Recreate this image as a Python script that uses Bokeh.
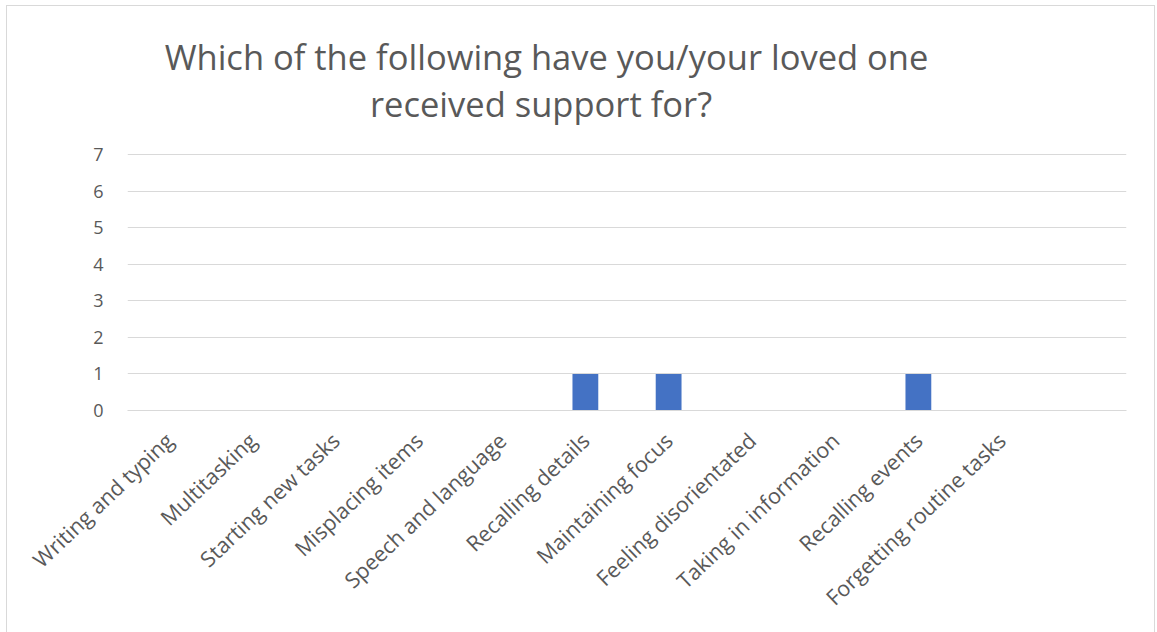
from bokeh.plotting import figure
from bokeh.models import FixedTicker, ColumnDataSource, Range1d, LinearScale
from bokeh.core.properties import value
from bokeh.embed import file_html
from bokeh.resources import INLINE

categories = ["Writing and typing", "Multitasking", "Starting new tasks", "Misplacing items",
              "Speech and language", "Recalling details", "Maintaining focus",
              "Feeling disorientated", "Taking in information", "Recalling events",
              "Forgetting routine tasks", ""]
counts = [0, 0, 0, 0, 0, 1, 1, 0, 0, 1, 0, 0]
y_ticks = [0, 1, 2, 3, 4, 5, 6, 7]
title_lines = ["Which of the following have you/your loved one", "received  support for?"]

FONT = "Open Sans"
GREY = "#595959"
BORDER = "#D9D9D9"

# layout (page pixels)
W, H = 1157, 632
FL, FR, FT, FB = 127, 1126, 20, 410      # frame left/right/top/bottom
Y_MAX = 7
y_end = Y_MAX * (FB - FT) / 256.0          # value axis: 7 units over 256 px

xpos = [i + 0.5 for i in range(len(categories))]
src = ColumnDataSource(dict(x=xpos, val=counts))

p = figure(x_range=Range1d(0, len(categories)), y_range=(0, y_end), width=W, height=H,
           output_backend="svg", toolbar_location=None,
           min_border_left=FL, min_border_right=W - FR, min_border_top=FT, min_border_bottom=H - FB)
p.title = None
p.extra_x_ranges = {"px": Range1d(FL, FR)}
p.extra_x_scales = {"px": LinearScale()}
p.extra_y_ranges = {"py": Range1d(FB, FT)}
p.extra_y_scales = {"py": LinearScale()}

p.vbar(x="x", top="val", width=0.31, source=src, color="#4472C4", line_color=None)

title_src = ColumnDataSource(dict(x=[546, 545], y=[56, 103], t=title_lines))
p.text(x="x", y="y", text="t", source=title_src, x_range_name="px", y_range_name="py",
       text_align="center", text_baseline="middle", text_font=value(FONT),
       text_font_size="34.5px", text_color=GREY)

p.outline_line_color = None
p.border_fill_color = None
p.background_fill_color = "white"
g = f"linear-gradient({BORDER},{BORDER})"
p.styles = {"background": f"{g} 6px 5px / 1px 640px no-repeat, {g} 6px 5px / 1149px 1px no-repeat, "
                          f"{g} 1154px 5px / 1px 640px no-repeat, white"}

p.xgrid.grid_line_color = None
p.ygrid.grid_line_color = BORDER
p.ygrid.grid_line_width = 1
p.ygrid.ticker = FixedTicker(ticks=y_ticks)
p.yaxis.ticker = FixedTicker(ticks=y_ticks)
p.yaxis.axis_line_color = None
p.yaxis.major_tick_line_color = None
p.yaxis.minor_tick_line_color = None
p.yaxis.major_label_text_font = FONT
p.yaxis.major_label_text_font_size = "18px"
p.yaxis.major_label_text_color = GREY
p.yaxis.major_label_standoff = 18

p.xaxis.ticker = FixedTicker(ticks=xpos)
p.xaxis.major_label_overrides = {x: c for x, c in zip(xpos, categories)}
p.xaxis.axis_line_color = BORDER
p.xaxis.major_tick_line_color = None
p.xaxis.minor_tick_line_color = None
p.xaxis.major_label_orientation = 0.76
p.xaxis.major_label_text_font = FONT
p.xaxis.major_label_text_font_size = "21.5px"
p.xaxis.major_label_text_color = GREY
p.xaxis.major_label_standoff = 20

open("out.html", "w").write(file_html(p, INLINE))
